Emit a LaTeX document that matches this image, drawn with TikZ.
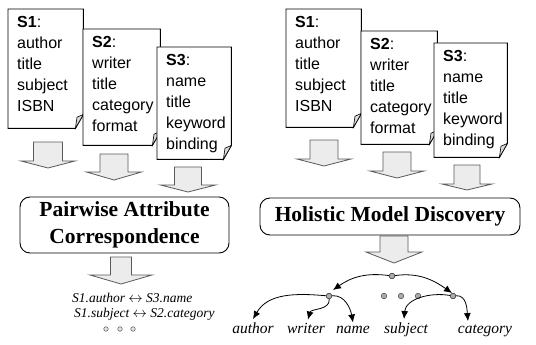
\documentclass[tikz,border=0pt]{standalone}
\usepackage{fontspec}
\setmainfont{Liberation Serif}
\newfontfamily\docfont{Liberation Sans}
\usetikzlibrary{arrows.meta}

\tikzset{
  docpage/.style={draw=none, inner sep=0pt, anchor=north west},
  doctext/.style={anchor=north west, inner sep=0pt, align=left,
    font=\docfont\fontsize{16}{21}\selectfont},
  docline/.style={draw=black, line width=0.9pt, fill=white, line join=miter},
  foldpart/.style={draw=black, line width=0.6pt, fill=gray!30},
  stagebox/.style={draw=black, line width=0.9pt, rounded corners=10pt,
    align=center, fill=white, font=\bfseries\fontsize{21.5}{27}\selectfont},
  fatarrow/.style={draw=gray!70!black, fill=gray!15, line width=0.8pt},
  treedot/.style={circle, draw=black!75, fill=gray!65, inner sep=0pt,
    minimum size=5.5pt, line width=0.5pt},
  smalldot/.style={circle, draw=gray!80!black, fill=gray!20, inner sep=0pt,
    minimum size=4.5pt, line width=0.6pt},
  leaf/.style={font=\itshape\fontsize{15.5}{18}\selectfont, inner sep=3pt},
  branch/.style={-{Latex[length=8pt,width=7pt]}, line width=0.8pt},
}

% schema sheet with a folded bottom-right corner
% #1 name, #2 x, #3 y (top), #4 width, #5 height, #6 contents
\newcommand\schemasheet[6]{%
  \node[docpage, minimum width=#4pt, minimum height=#5pt] (#1) at (#2,#3) {};
  \draw[docline] (#1.north west) -- (#1.north east)
    -- ([yshift=14pt]#1.south east) -- ([xshift=-8pt]#1.south east)
    -- (#1.south west) -- cycle;
  \draw[foldpart] ([xshift=-8pt]#1.south east)
    -- ([xshift=-6.4pt,yshift=11.2pt]#1.south east)
    -- ([yshift=14pt]#1.south east) -- cycle;
  \node[doctext] (#1-text) at ([xshift=9pt,yshift=-7pt]#1.north west) {#6};
}

% wide downward block arrow
% #1 centre x, #2 top, #3 shoulder, #4 tip, #5 half shaft, #6 half head
\newcommand\fatdown[6]{%
  \draw[fatarrow] ({#1-#5},#2) -- ({#1+#5},#2) -- ({#1+#5},#3) -- ({#1+#6},#3)
    -- (#1,#4) -- ({#1-#6},#3) -- ({#1-#5},#3) -- cycle;
}

\begin{document}
\begin{tikzpicture}[x=1pt,y=-1pt]
\useasboundingbox[fill=white] (0,0) rectangle (536,345);

% ---------- pairwise side ----------
\schemasheet{ls1}{8}{9}{75}{119}{\textbf{S1}:\\author\\title\\subject\\ISBN}
\schemasheet{ls2}{83}{29}{77}{116}{\textbf{S2}:\\writer\\title\\category\\format}
\schemasheet{ls3}{157}{47}{74}{112}{\textbf{S3}:\\name\\title\\keyword\\binding}

\fatdown{48}{142}{161}{168}{14.5}{27}
\fatdown{114}{154}{172}{180}{14}{27.5}
\fatdown{188}{167}{185}{192}{13.5}{27.5}

\node[stagebox, minimum width=209pt, minimum height=56pt] (pw) at (124.5,225)
  {Pairwise Attribute\\Correspondence};

\fatdown{121}{257}{275}{284}{10.5}{31}

\node[anchor=north west, align=left, inner sep=0pt,
      font=\itshape\fontsize{13.5}{15}\selectfont] (pairs) at (72,293)
  {S1.author $\leftrightarrow$ S3.name\\\hspace{2pt}S1.subject $\leftrightarrow$ S2.category};

\node[smalldot] (ld1) at (106,329) {};
\node[smalldot] (ld2) at (120,329) {};
\node[smalldot] (ld3) at (133,329) {};

% ---------- holistic side ----------
\schemasheet{rs1}{286}{9}{75}{118}{\textbf{S1}:\\author\\title\\subject\\ISBN}
\schemasheet{rs2}{361}{31}{76}{113}{\textbf{S2}:\\writer\\title\\category\\format}
\schemasheet{rs3}{434}{43}{73}{114}{\textbf{S3}:\\name\\title\\keyword\\binding}

\fatdown{324}{140}{159}{166}{14}{27}
\fatdown{397}{152}{171}{178}{14}{27}
\fatdown{467}{165}{184}{190}{13}{25}

\node[stagebox, minimum width=260pt, minimum height=37pt] (hmd) at (390,216.5)
  {Holistic Model Discovery};

\fatdown{394}{236}{252}{263}{14}{28}

% model tree
\node[treedot] (root) at (392,276) {};
\node[treedot] (lc) at (329,296) {};
\node[treedot] (rc) at (453,296) {};
\node[treedot] (md1) at (384,296) {};
\node[treedot] (md2) at (401,296) {};
\node[treedot] (md3) at (418,296) {};

\node[leaf, anchor=base] (author) at (253,333) {author};
\node[leaf, anchor=base] (writer) at (306,333) {writer};
\node[leaf, anchor=base] (name) at (353,333) {name};
\node[leaf, anchor=base] (subject) at (406,333) {subject};
\node[leaf, anchor=base] (category) at (485,333) {category};

\draw[branch] (root) to[out=172,in=35] ([xshift=4pt,yshift=6pt]lc.center);
\draw[branch] (root) to[out=8,in=145] ([xshift=-1pt,yshift=3pt]rc.center);
\draw[branch] (lc) to[out=175,in=60] (author.north);
\draw[branch] (lc) to[out=-85,in=75] ([xshift=2pt]writer.north);
\draw[branch] (lc) to[out=5,in=100] (name.north);
\draw[branch] (rc) to[out=170,in=85] ([xshift=-2pt]subject.north);
\draw[branch] (rc) to[out=5,in=95] ([xshift=-17pt]category.north);

% redraw the tree dots above the branches
\node[treedot] at (root) {};
\node[treedot] at (lc) {};
\node[treedot] at (rc) {};
\end{tikzpicture}
\end{document}
